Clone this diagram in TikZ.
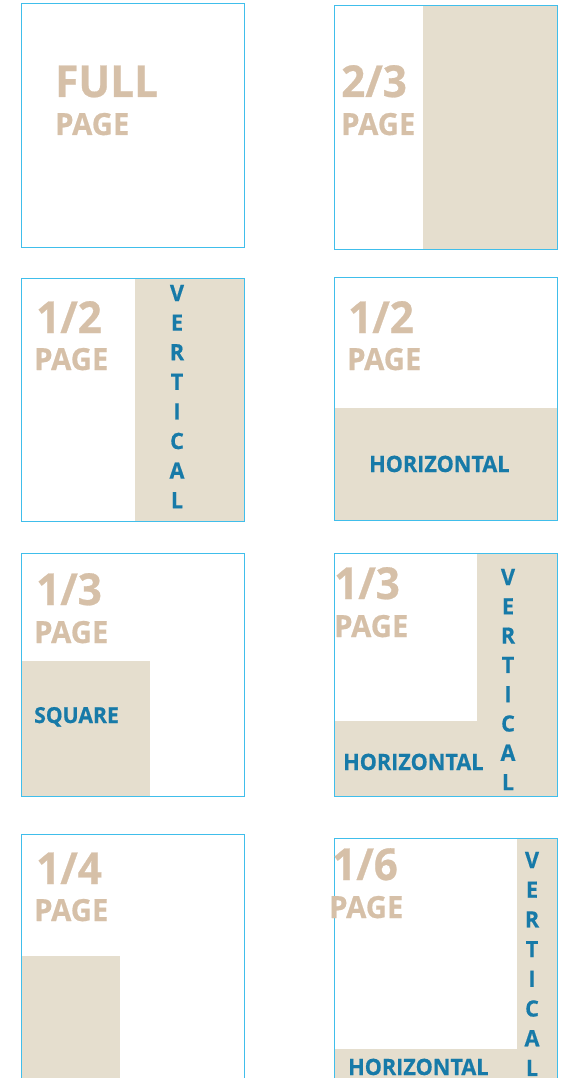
\documentclass[tikz,border=0pt]{standalone}
\usepackage{fontspec}
\setmainfont{Open Sans}[FakeStretch=0.96, BoldFeatures={FakeBold=0.6}]
\definecolor{bordBleu}{RGB}{64,190,235}
\definecolor{fondSable}{RGB}{229,222,206}
\definecolor{texteSable}{RGB}{214,192,168}
\definecolor{texteBleu}{RGB}{23,122,168}

\begin{document}
\begin{tikzpicture}[x=1pt, y=-1pt,
  cadre/.style={draw=bordBleu, line width=1pt},
  zone/.style={fill=fondSable},
  fraction/.style={texteSable, font=\fontsize{44}{44}\selectfont\bfseries, anchor=base west, inner sep=0pt},
  pagetxt/.style={texteSable, font=\fontsize{30.5}{30.5}\selectfont\bfseries, anchor=base west, inner sep=0pt},
  etiquette/.style={texteBleu, font=\fontsize{22.5}{22.5}\selectfont\bfseries, anchor=base west, inner sep=0pt},
  lettre/.style={texteBleu, font=\fontsize{22.5}{22.5}\selectfont\bfseries, inner sep=0pt}]

  \useasboundingbox (0,0) rectangle (566,1078);

  % ==========================================
  % LIGNE 1 : PAGE ENTIÈRE & 2/3
  % ==========================================
  \begin{scope}[shift={(21,4)}]
    \draw[cadre] (0,0) rectangle (223,243);
    \node[fraction] (full) at (34,93) {FULL};
    \node[pagetxt] (fullPage) at (34,131) {PAGE};
  \end{scope}

  \begin{scope}[shift={(334,6)}]
    % Zone 2/3 à droite
    \fill[zone] (89,0) rectangle (223,243);
    \draw[cadre] (0,0) rectangle (223,243);
    \node[fraction] (deuxTiers) at (7,91) {2/3};
    \node[pagetxt] (deuxTiersPage) at (7,129) {PAGE};
  \end{scope}

  % ==========================================
  % LIGNE 2 : 1/2 VERTICALE & 1/2 HORIZONTALE
  % ==========================================
  \begin{scope}[shift={(21,278)}]
    \fill[zone] (114,0) rectangle (223,243);
    \draw[cadre] (0,0) rectangle (223,243);
    \node[fraction] (demiV) at (15,55) {1/2};
    \node[pagetxt] (demiVPage) at (13,92) {PAGE};
    % Mot écrit lettre par lettre
    \foreach \l [count=\i from 0] in {V,E,R,T,I,C,A,L}
      \node[lettre] (vertDemi-\i) at (156,{15+29.6*\i}) {\l};
  \end{scope}

  \begin{scope}[shift={(334,277)}]
    \fill[zone] (0,131) rectangle (223,243);
    \draw[cadre] (0,0) rectangle (223,243);
    \node[fraction] (demiH) at (14,56) {1/2};
    \node[pagetxt] (demiHPage) at (13,93) {PAGE};
    \node[etiquette] (horizDemi) at (35,195) {HORIZONTAL};
  \end{scope}

  % ==========================================
  % LIGNE 3 : 1/3 CARRÉ & 1/3 EN L
  % ==========================================
  \begin{scope}[shift={(21,553)}]
    \fill[zone] (0,108) rectangle (129,243);
    \draw[cadre] (0,0) rectangle (223,243);
    \node[fraction] (tiersC) at (15,52) {1/3};
    \node[pagetxt] (tiersCPage) at (13,90) {PAGE};
    \node[etiquette, font=\fontsize{22}{22}\selectfont\bfseries] (carre) at (13,170) {SQUARE};
  \end{scope}

  \begin{scope}[shift={(334,553)}]
    % Zone en L (bande droite + bande basse)
    \fill[zone] (143,0) -| (223,243) -| (0,168) -| (143,0) -- cycle;
    \draw[cadre] (0,0) rectangle (223,243);
    \node[fraction] (tiersL) at (0,46) {1/3};
    \node[pagetxt] (tiersLPage) at (0,84) {PAGE};
    \node[etiquette] (horizTiers) at (9,217) {HORIZONTAL};
    \foreach \l [count=\i from 0] in {V,E,R,T,I,C,A,L}
      \node[lettre] (vertTiers-\i) at (174,{24+29.3*\i}) {\l};
  \end{scope}

  % ==========================================
  % LIGNE 4 : 1/4 & 1/6 (coupées en bas)
  % ==========================================
  \begin{scope}[shift={(21,834)}]
    \fill[zone] (0,122) rectangle (99,250);
    \draw[cadre] (0,0) rectangle (223,250);
    \node[fraction] (quart) at (15,50) {1/4};
    \node[pagetxt] (quartPage) at (13,87) {PAGE};
  \end{scope}

  \begin{scope}[shift={(334,838)}]
    \fill[zone] (183,0) -| (223,250) -| (0,211) -| (183,0) -- cycle;
    \draw[cadre] (0,0) rectangle (223,250);
    \node[fraction] (sixieme) at (-2,42) {1/6};
    \node[pagetxt] (sixiemePage) at (-5,80) {PAGE};
    \node[etiquette] (horizSixieme) at (14,237) {HORIZONTAL};
    \foreach \l [count=\i from 0] in {V,E,R,T,I,C,A,L}
      \node[lettre] (vertSixieme-\i) at (198,{22+29.7*\i}) {\l};
  \end{scope}

\end{tikzpicture}
\end{document}
